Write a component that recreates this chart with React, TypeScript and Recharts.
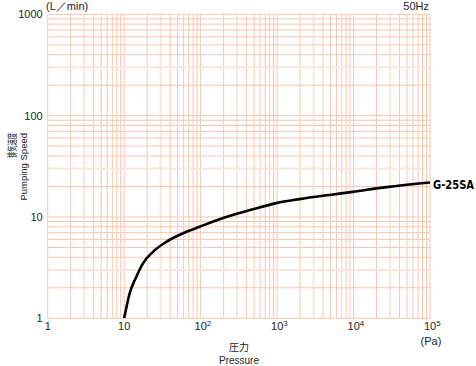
import React from 'react';
import { LineChart, Line, XAxis, YAxis, ReferenceLine } from 'recharts';

const pressure = [10, 11.8, 14.4, 17.6, 23.8, 35.6, 58.7, 97, 177, 483, 977, 1970, 4850, 9800, 26700, 100000];
const speed = [1, 1.76, 2.56, 3.48, 4.53, 5.69, 6.9, 8.0, 9.5, 11.9, 13.7, 15.0, 16.5, 17.7, 19.7, 21.9];
const xTicks = [1, 10, 100, 1000, 10000, 100000];
const yTicks = [1, 10, 100, 1000];
const multipliers = [1, 2, 3, 4, 5, 6, 7, 8, 9];
const seriesName = 'G-25SA';

const data = pressure.map((p, i) => ({ p, s: speed[i] }));

const xGrid: { v: number; m: number }[] = [];
for (let d = 0; d < 5; d++) for (const m of multipliers) xGrid.push({ v: m * Math.pow(10, d), m });
xGrid.push({ v: 100000, m: 1 });
const yGrid: { v: number; m: number }[] = [];
for (let d = 0; d < 3; d++) for (const m of multipliers) yGrid.push({ v: m * Math.pow(10, d), m });
yGrid.push({ v: 1000, m: 1 });

const FONT = '"Liberation Sans", Arial, Helvetica, sans-serif';
const CJK = '"Noto Sans CJK JP", sans-serif';

const XTick = (props: any) => {
  const { x, y, payload } = props;
  const v = payload.value as number;
  const exp = Math.round(Math.log10(v));
  if (exp <= 1) {
    return (
      <text x={x} y={y + 4} textAnchor="middle" fontSize={11} fill="#222" fontFamily={FONT}>
        {v === 1 ? '1' : '10'}
      </text>
    );
  }
  return (
    <text x={x - 6} y={y + 4} textAnchor="start" fontSize={11} fill="#222" fontFamily={FONT}>
      10
      <tspan dy={-4} fontSize={8}>{exp}</tspan>
    </text>
  );
};

const YTick = (props: any) => {
  const { x, y, payload } = props;
  return (
    <text x={x + 3} y={y + 4} textAnchor="end" fontSize={11} fill="#222" fontFamily={FONT}>
      {payload.value}
    </text>
  );
};

export default function App() {
  return (
    <div style={{ position: 'absolute', left: 0, top: 0, width: 476, height: 366, background: '#fff' }}>
      <LineChart width={476} height={366} data={data} margin={{ top: 14.3, right: 46, bottom: 17.7, left: 0 }}>
        <XAxis
          dataKey="p"
          type="number"
          scale="log"
          domain={[1, 100000]}
          ticks={xTicks}
          allowDataOverflow
          axisLine={false}
          tickLine={false}
          height={30}
          tick={<XTick />}
          interval={0}
        />
        <YAxis
          dataKey="s"
          type="number"
          scale="log"
          domain={[1, 1000]}
          ticks={yTicks}
          allowDataOverflow
          axisLine={false}
          tickLine={false}
          width={47.7}
          tick={<YTick />}
          interval={0}
        />
        {xGrid.map((g, i) => (
          <ReferenceLine
            key={'x' + i}
            x={g.v}
            stroke={g.m === 3 ? '#fce6dc' : '#f8c6b0'}
            strokeWidth={g.m === 3 ? 2 : 1}
            ifOverflow="visible"
          />
        ))}
        {yGrid.map((g, i) => (
          <ReferenceLine
            key={'y' + i}
            y={g.v}
            stroke={g.m === 3 ? '#fce6dc' : '#f8c6b0'}
            strokeWidth={g.m === 3 ? 2 : 1}
            ifOverflow="visible"
          />
        ))}
        <Line
          dataKey="s"
          type="monotone"
          stroke="#000"
          strokeWidth={2.6}
          dot={false}
          isAnimationActive={false}
          name={seriesName}
        />
      </LineChart>
      <svg
        width={476}
        height={366}
        style={{ position: 'absolute', left: 0, top: 0, pointerEvents: 'none' }}
      >
        <text x={46} y={10} fontSize={11} fill="#222" fontFamily={FONT}>(L／min)</text>
        <text x={429} y={10} fontSize={11} fill="#222" fontFamily={FONT} textAnchor="end">50Hz</text>
        <text x={431} y={345} fontSize={11} fill="#222" fontFamily={FONT} textAnchor="middle">(Pa)</text>
        <text x={239} y={351} fontSize={10} fill="#222" fontFamily={CJK} textAnchor="middle">圧力</text>
        <text x={239} y={364} fontSize={10} fill="#222" fontFamily={FONT} textAnchor="middle">Pressure</text>
        <text
          transform="translate(16,133) rotate(-90)"
          fontSize={10.5}
          fill="#222"
          fontFamily={CJK}
          textAnchor="end"
          textLength={25}
          lengthAdjust="spacingAndGlyphs"
        >
          排気速度
        </text>
        <text
          transform="translate(27,133) rotate(-90)"
          fontSize={9.5}
          fill="#222"
          fontFamily={FONT}
          textAnchor="end"
        >
          Pumping Speed
        </text>
        <text
          x={433}
          y={188.5}
          fontSize={12}
          fontWeight="bold"
          fill="#000"
          fontFamily='"DejaVu Sans Condensed", "Liberation Sans Narrow", Arial, sans-serif'
          textLength={41}
          lengthAdjust="spacingAndGlyphs"
        >
          {seriesName}
        </text>
      </svg>
    </div>
  );
}
